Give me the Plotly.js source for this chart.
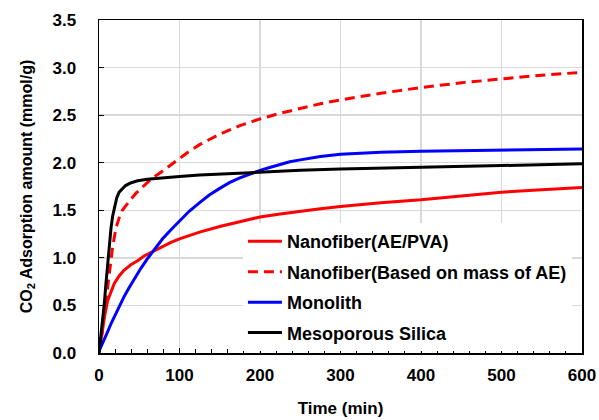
<!DOCTYPE html>
<html>
<head>
<meta charset="utf-8">
<script src="https://cdn.plot.ly/plotly-3.0.1.min.js"></script>
<style>html,body{margin:0;padding:0;background:#fff;}#chart{width:599px;height:420px;}</style>
</head>
<body>
<div id="chart"></div>
<script>
// Nanofiber (AE/PVA)
const tPVA = [0, 2, 4.5, 7, 10.7, 15, 19, 25, 31, 40, 48, 56, 65, 79, 90, 100, 125, 150, 175, 200, 225, 250, 275, 300, 350, 400, 450, 500, 550, 600];
const yPVA = [0, 0.12, 0.27, 0.39, 0.55, 0.65, 0.73, 0.81, 0.87, 0.93, 0.97, 1.02, 1.06, 1.12, 1.165, 1.2, 1.27, 1.33, 1.38, 1.43, 1.46, 1.49, 1.515, 1.54, 1.58, 1.61, 1.65, 1.69, 1.715, 1.74];
// Nanofiber (based on mass of AE)
const tAE = [0, 4, 8.7, 12.8, 17, 21, 25, 29, 34, 40, 46, 52, 58, 65, 77, 88, 100, 112, 125, 150, 175, 200, 225, 250, 275, 300, 350, 400, 450, 500, 550, 600];
const yAE = [0, 0.22, 0.55, 0.85, 1.12, 1.31, 1.42, 1.5, 1.56, 1.62, 1.68, 1.73, 1.78, 1.83, 1.9, 1.97, 2.04, 2.12, 2.19, 2.3, 2.39, 2.46, 2.52, 2.57, 2.62, 2.66, 2.73, 2.79, 2.84, 2.88, 2.92, 2.95];
// Monolith
const tMono = [0, 5, 10, 15, 20, 25, 31, 37, 44, 52, 60, 70, 79, 90, 100, 112, 125, 137, 150, 162, 175, 187, 200, 212, 225, 237, 250, 275, 300, 325, 350, 400, 450, 500, 550, 600];
const yMono = [0.02, 0.11, 0.21, 0.31, 0.4, 0.49, 0.59, 0.68, 0.78, 0.89, 0.99, 1.1, 1.2, 1.3, 1.39, 1.49, 1.58, 1.66, 1.73, 1.79, 1.84, 1.88, 1.92, 1.95, 1.98, 2.01, 2.03, 2.065, 2.09, 2.1, 2.11, 2.12, 2.125, 2.13, 2.14, 2.145];
// Mesoporous Silica
const tMeso = [0, 2, 4, 6.6, 8.5, 10.7, 13, 15, 17, 19, 22, 25, 29, 33, 40, 48, 60, 77, 100, 125, 150, 200, 250, 300, 400, 500, 600];
const yMeso = [0, 0.15, 0.33, 0.52, 0.72, 0.95, 1.15, 1.32, 1.44, 1.53, 1.63, 1.69, 1.73, 1.76, 1.79, 1.81, 1.825, 1.84, 1.855, 1.87, 1.88, 1.905, 1.92, 1.935, 1.95, 1.97, 1.99];

const names = ['Nanofiber(AE/PVA)', 'Nanofiber(Based on mass of AE)', 'Monolith', 'Mesoporous Silica'];
const xTicks = [0, 100, 200, 300, 400, 500, 600];
const yTicks = [0.0, 0.5, 1.0, 1.5, 2.0, 2.5, 3.0, 3.5];

const F = 'Arial, "Liberation Sans", sans-serif';
function tr(x, y, name, color, dash, g) {
  return {x: x, y: y, name: name, type: 'scatter', mode: 'lines',
    line: {color: color, width: 3, dash: dash, shape: 'linear'},
    legendgroup: g};
}
const data = [
  tr(tPVA, yPVA, names[0], '#ff0000', 'solid', 'a'),
  tr(tAE, yAE, names[1], '#ff0000', '10px,6px', 'b'),
  tr(tMono, yMono, names[2], '#0000ff', 'solid', 'c'),
  tr(tMeso, yMeso, names[3], '#000000', 'solid', 'd')
];
const layout = {
  width: 599, height: 420,
  margin: {l: 99, r: 17, t: 20, b: 67},
  paper_bgcolor: '#fff', plot_bgcolor: '#fff',
  font: {family: F, color: '#000', size: 17, weight: 'bold'},
  showlegend: true,
  legend: {x: 0.298, y: 0.39, xanchor: 'left', yanchor: 'top', bgcolor: '#fff',
    font: {family: F, size: 18, weight: 'bold', color: '#000'},
    traceorder: 'grouped', tracegroupgap: 4, itemwidth: 34},
  xaxis: {range: [0, 600], tickvals: xTicks, ticktext: xTicks.map(String),
    showline: true, linecolor: '#000', linewidth: 1.5, mirror: true,
    ticks: 'inside', ticklen: 5, tickcolor: '#000',
    minor: {dtick: 20, ticks: 'inside', ticklen: 4, tickcolor: '#000', showgrid: false},
    showgrid: true, gridcolor: '#d9d9d9', gridwidth: 1.5, zeroline: false,
    ticklabelstandoff: 6,
    tickfont: {family: F, size: 17, weight: 'bold'},
    title: {text: 'Time (min)', font: {family: F, size: 17, weight: 'bold'}, standoff: 18}},
  yaxis: {range: [0, 3.5], tickvals: yTicks, ticktext: yTicks.map(v => v.toFixed(1)),
    showline: true, linecolor: '#000', linewidth: 1.5, mirror: true,
    ticks: 'inside', ticklen: 5, tickcolor: '#000',
    showgrid: true, gridcolor: '#d9d9d9', gridwidth: 1.5, zeroline: false,
    ticklabelstandoff: 18,
    tickfont: {family: F, size: 17, weight: 'bold'},
    title: {text: 'CO<sub>2</sub> Adsorption amount (mmol/g)', font: {family: F, size: 16, weight: 'bold'}, standoff: 16}}
};
Plotly.newPlot('chart', data, layout, {displayModeBar: false, staticPlot: true});
</script>
</body>
</html>
